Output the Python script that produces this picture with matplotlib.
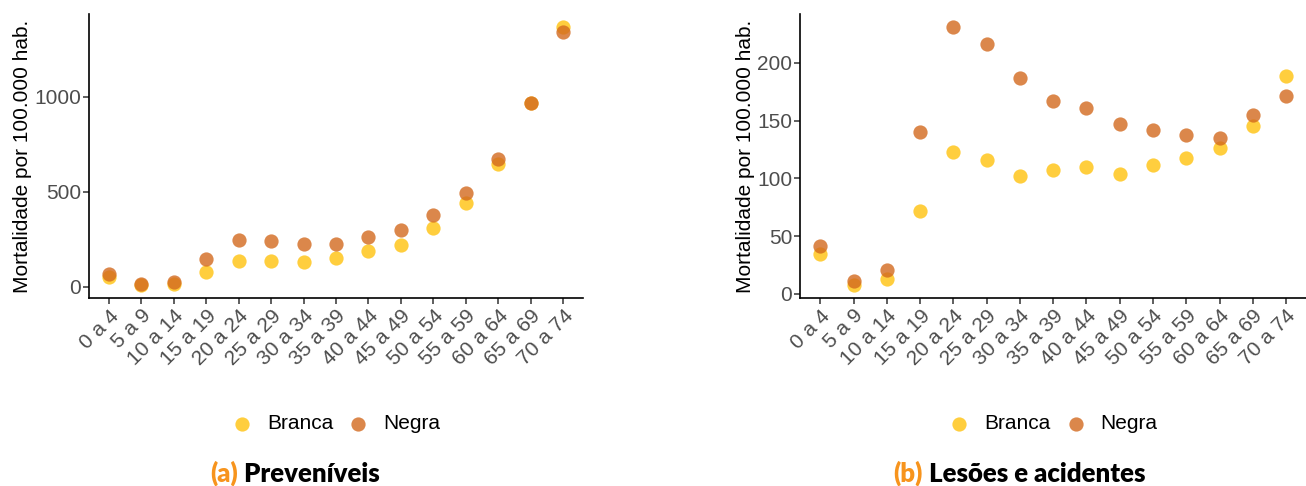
import numpy as np
import matplotlib
matplotlib.use("Agg")
import matplotlib.pyplot as plt

# faixas etarias e taxas de mortalidade (por 100.000 hab.)
faixas = ["0 a 4", "5 a 9", "10 a 14", "15 a 19", "20 a 24", "25 a 29", "30 a 34",
          "35 a 39", "40 a 44", "45 a 49", "50 a 54", "55 a 59", "60 a 64",
          "65 a 69", "70 a 74"]

prev_branca = [49, 9, 12, 74, 132, 134, 128, 151, 188, 221, 307, 439, 646, 967, 1368]
prev_negra = [65, 12, 23, 144, 244, 239, 223, 223, 260, 300, 377, 491, 674, 967, 1342]

les_branca = [34.3, 7.8, 13, 71.9, 122.6, 115.7, 102.2, 107.4, 109.4, 103.6, 111.4,
              117.7, 126.1, 145.2, 188.7]
les_negra = [41.6, 11.5, 20.8, 140, 231, 216.2, 186.7, 166.5, 160.8, 146.6, 141.4,
             137.7, 134.5, 154.4, 171.4]

prev_yticks = [0, 500, 1000]
les_yticks = [0, 50, 100, 150, 200]

COR_BRANCA = "#FFC20E"
COR_NEGRA = "#D2691E"
COR_LETRA = "#F7941D"
CINZA = "#4D4D4D"

plt.rcParams['font.family'] = ['Liberation Sans', 'DejaVu Sans']


def painel(ax, branca, negra, yticks):
    x = np.arange(1, len(faixas) + 1)
    ax.scatter(x, branca, s=105, color=COR_BRANCA, alpha=0.8, linewidths=0,
               label="Branca", zorder=3)
    ax.scatter(x, negra, s=105, color=COR_NEGRA, alpha=0.8, linewidths=0,
               label="Negra", zorder=3)

    # expansao tipo ggplot: 5% no continuo, 0.6 no discreto
    vals = np.concatenate([branca, negra])
    r = vals.max() - vals.min()
    ax.set_ylim(vals.min() - 0.05 * r, vals.max() + 0.05 * r)
    ax.set_xlim(0.4, len(faixas) + 0.6)

    ax.set_xticks(x)
    ax.set_xticklabels(faixas, rotation=45, ha="right", rotation_mode="anchor")
    ax.set_yticks(yticks)
    ax.tick_params(axis="both", labelsize=15, labelcolor=CINZA, color="#333333",
                   length=4, width=1.1, direction="out", pad=2)
    ax.set_ylabel("Mortalidade por 100.000 hab.", fontsize=15, color="black",
                  labelpad=1.5)

    for lado in ["top", "right"]:
        ax.spines[lado].set_visible(False)
    for lado in ["left", "bottom"]:
        ax.spines[lado].set_linewidth(1.2)
        ax.spines[lado].set_color("black")

    leg = ax.legend(loc="center", bbox_to_anchor=(0.5, -0.445), ncol=2,
                    frameon=False, fontsize=15, handlelength=1.0,
                    handletextpad=0.7, columnspacing=0.7)
    for h in leg.legend_handles:
        h.set_alpha(0.8)


def legenda(fig, xc, y, letra, titulo):
    renderer = fig.canvas.get_renderer()
    fonte = dict(fontsize=18.5, fontweight="heavy", family=["Lato", "DejaVu Sans"],
                 va="baseline")
    t1 = fig.text(0, y, letra, color=COR_LETRA, **fonte)
    t2 = fig.text(0, y, " " + titulo, color="black", **fonte)
    w1 = t1.get_window_extent(renderer).width / fig.bbox.width
    w2 = t2.get_window_extent(renderer).width / fig.bbox.width
    x0 = xc - (w1 + w2) / 2
    t1.set_x(x0)
    t2.set_x(x0 + w1)


fig = plt.figure(figsize=(13.06, 4.86), dpi=100)

ax1 = fig.add_axes([0.0684, 0.3874, 0.3778, 0.5837])
ax2 = fig.add_axes([0.6129, 0.3874, 0.3871, 0.5837])

painel(ax1, prev_branca, prev_negra, prev_yticks)
painel(ax2, les_branca, les_negra, les_yticks)

fig.canvas.draw()
legenda(fig, 0.226, 0.009, "(a)", "Preveníveis")
legenda(fig, 0.7805, 0.009, "(b)", "Lesões e acidentes")

fig.savefig("out.png", dpi=100, facecolor="white")
